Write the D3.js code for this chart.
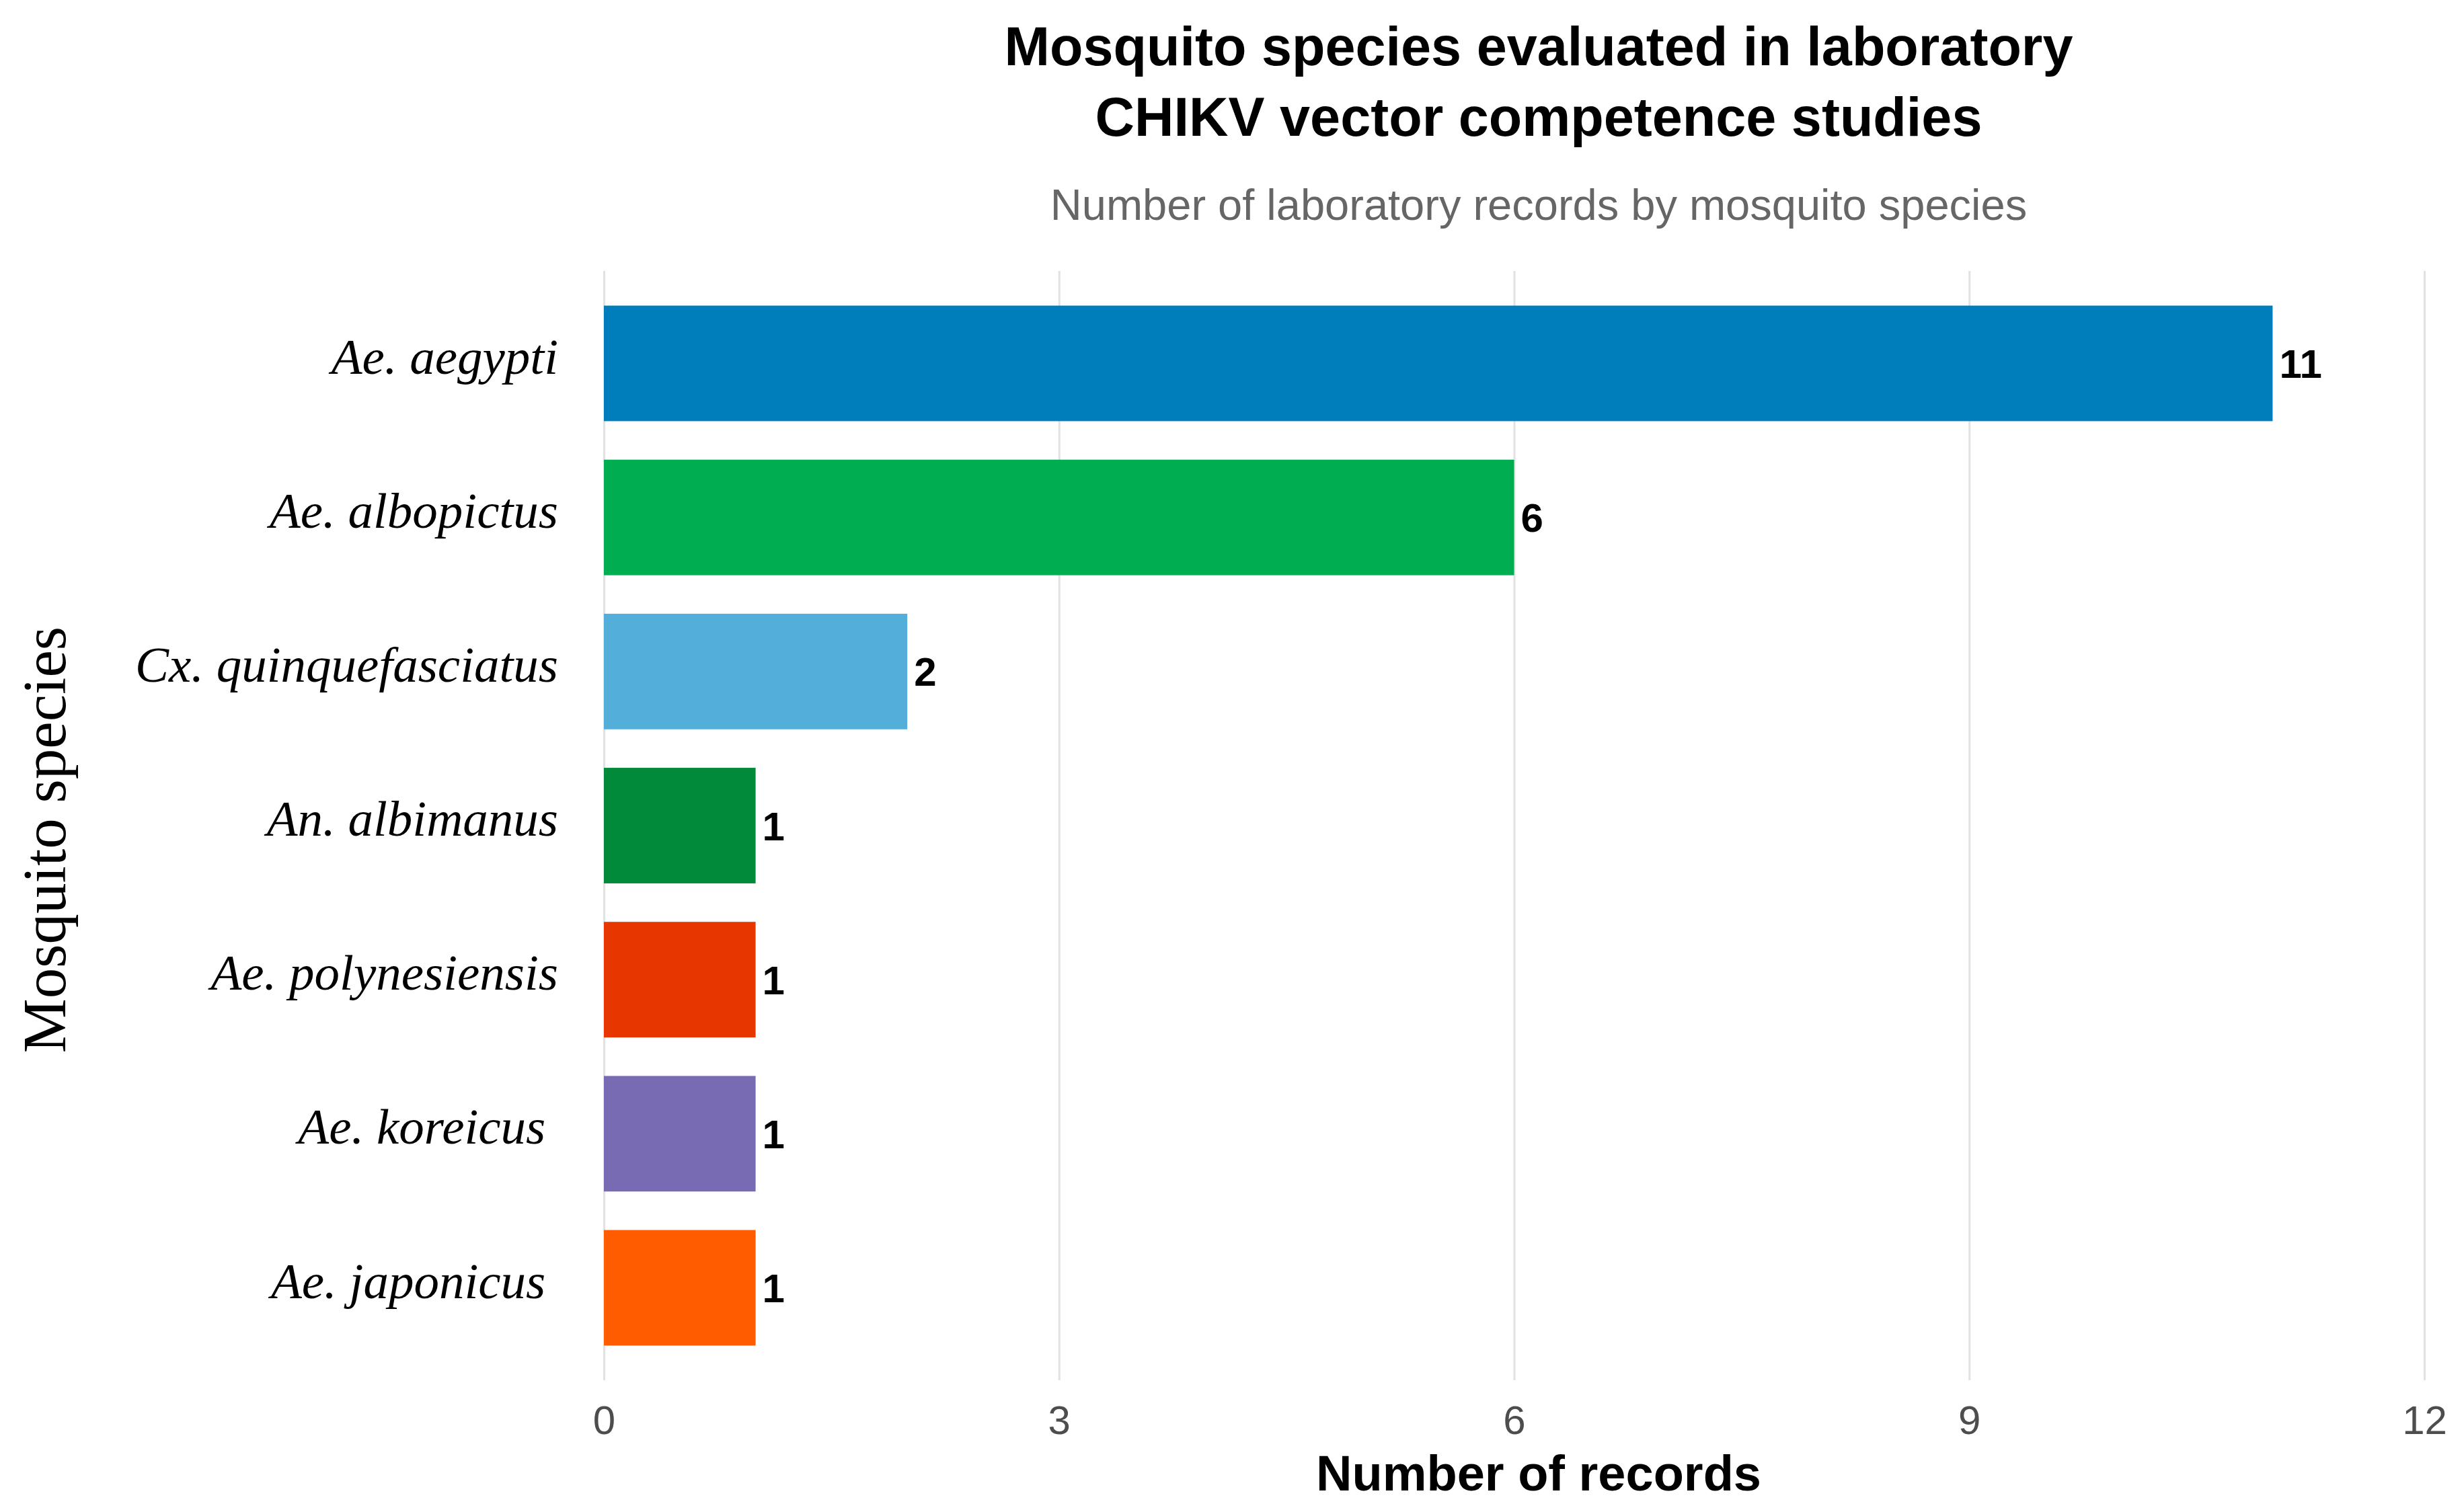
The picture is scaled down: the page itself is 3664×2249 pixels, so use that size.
<!DOCTYPE html>
<html>
<head>
<meta charset="utf-8">
<script src="https://cdn.jsdelivr.net/npm/d3@7"></script>
<style>
  html, body { margin: 0; padding: 0; background: #fff; }
  svg { display: block; }
</style>
</head>
<body>
<div id="graph"></div>
<script>
// data
const species = ["Ae. aegypti", "Ae. albopictus", "Cx. quinquefasciatus", "An. albimanus",
                 "Ae. polynesiensis", "Ae. koreicus ", "Ae. japonicus "];
const records = [11, 6, 2, 1, 1, 1, 1];
const barColors = ["#007DBB", "#00AD50", "#53AEDA", "#008A3A", "#E83600", "#786BB4", "#FF5C00"];
const xTicks = [0, 3, 6, 9, 12];

const data = species.map((s, i) => ({name: s, value: records[i], color: barColors[i]}));

const W = 3664, H = 2249;
const panel = {left: 898, right: 3605, top: 403, bottom: 2053};
const centerX = 2288;
const sans = "'Liberation Sans', Arial, Helvetica, sans-serif";
const serif = "'Liberation Serif', 'Times New Roman', serif";

const svg = d3.select("#graph")
  .append("svg")
    .attr("width", W)
    .attr("height", H);

svg.append("rect").attr("width", W).attr("height", H).attr("fill", "#fff");

// scales
const x = d3.scaleLinear()
  .domain([0, 12])
  .range([panel.left, panel.right]);

const y = d3.scaleBand()
  .domain(species)
  .range([panel.top, panel.bottom])
  .paddingInner(0.25)
  .paddingOuter(0.225);

// x axis + vertical grid
const xAxis = svg.append("g")
  .attr("transform", `translate(0,${panel.bottom})`)
  .call(d3.axisBottom(x)
    .tickValues(xTicks)
    .tickSize(-(panel.bottom - panel.top))
    .tickPadding(37)
    .tickFormat(d3.format("d")));
xAxis.select(".domain").remove();
xAxis.selectAll(".tick line")
  .attr("stroke", "#E2E2E2")
  .attr("stroke-width", 3);
xAxis.selectAll(".tick text")
  .attr("fill", "#4D4D4D")
  .style("font-family", sans)
  .style("font-size", "60px");

// y axis labels
const yAxis = svg.append("g")
  .attr("transform", `translate(${panel.left},0)`)
  .call(d3.axisLeft(y).tickSize(0).tickPadding(68));
yAxis.select(".domain").remove();
yAxis.selectAll(".tick text")
  .attr("fill", "#000")
  .attr("dy", "0.2em")
  .style("white-space", "pre")
  .style("font-family", serif)
  .style("font-style", "italic")
  .style("font-size", "75px");

// bars
svg.selectAll("rect.bar")
  .data(data)
  .join("rect")
    .attr("class", "bar")
    .attr("x", x(0))
    .attr("y", d => y(d.name))
    .attr("width", d => x(d.value) - x(0))
    .attr("height", y.bandwidth())
    .attr("fill", d => d.color);

// value labels
svg.selectAll("text.val")
  .data(data)
  .join("text")
    .attr("class", "val")
    .attr("x", d => x(d.value) + 10)
    .attr("y", d => y(d.name) + y.bandwidth() / 2)
    .attr("dy", "0.36em")
    .style("font-family", sans)
    .style("font-weight", "bold")
    .style("font-size", "60px")
    .attr("fill", "#000")
    .text(d => d.value);

// titles
const title = svg.append("text")
  .attr("text-anchor", "middle")
  .style("font-family", sans)
  .style("font-weight", "bold")
  .style("font-size", "81px")
  .attr("fill", "#000");
title.append("tspan").attr("x", centerX).attr("y", 97).text("Mosquito species evaluated in laboratory");
title.append("tspan").attr("x", centerX).attr("y", 202).text("CHIKV vector competence studies");

svg.append("text")
  .attr("x", centerX)
  .attr("y", 327)
  .attr("text-anchor", "middle")
  .style("font-family", sans)
  .style("font-size", "65px")
  .attr("fill", "#666666")
  .text("Number of laboratory records by mosquito species");

// axis titles
svg.append("text")
  .attr("x", centerX)
  .attr("y", 2217)
  .attr("text-anchor", "middle")
  .style("font-family", sans)
  .style("font-weight", "bold")
  .style("font-size", "74px")
  .attr("fill", "#000")
  .text("Number of records");

svg.append("text")
  .attr("transform", "translate(97,1249) rotate(-90)")
  .attr("text-anchor", "middle")
  .style("font-family", serif)
  .style("font-size", "91px")
  .attr("fill", "#000")
  .text("Mosquito species");
</script>
</body>
</html>
